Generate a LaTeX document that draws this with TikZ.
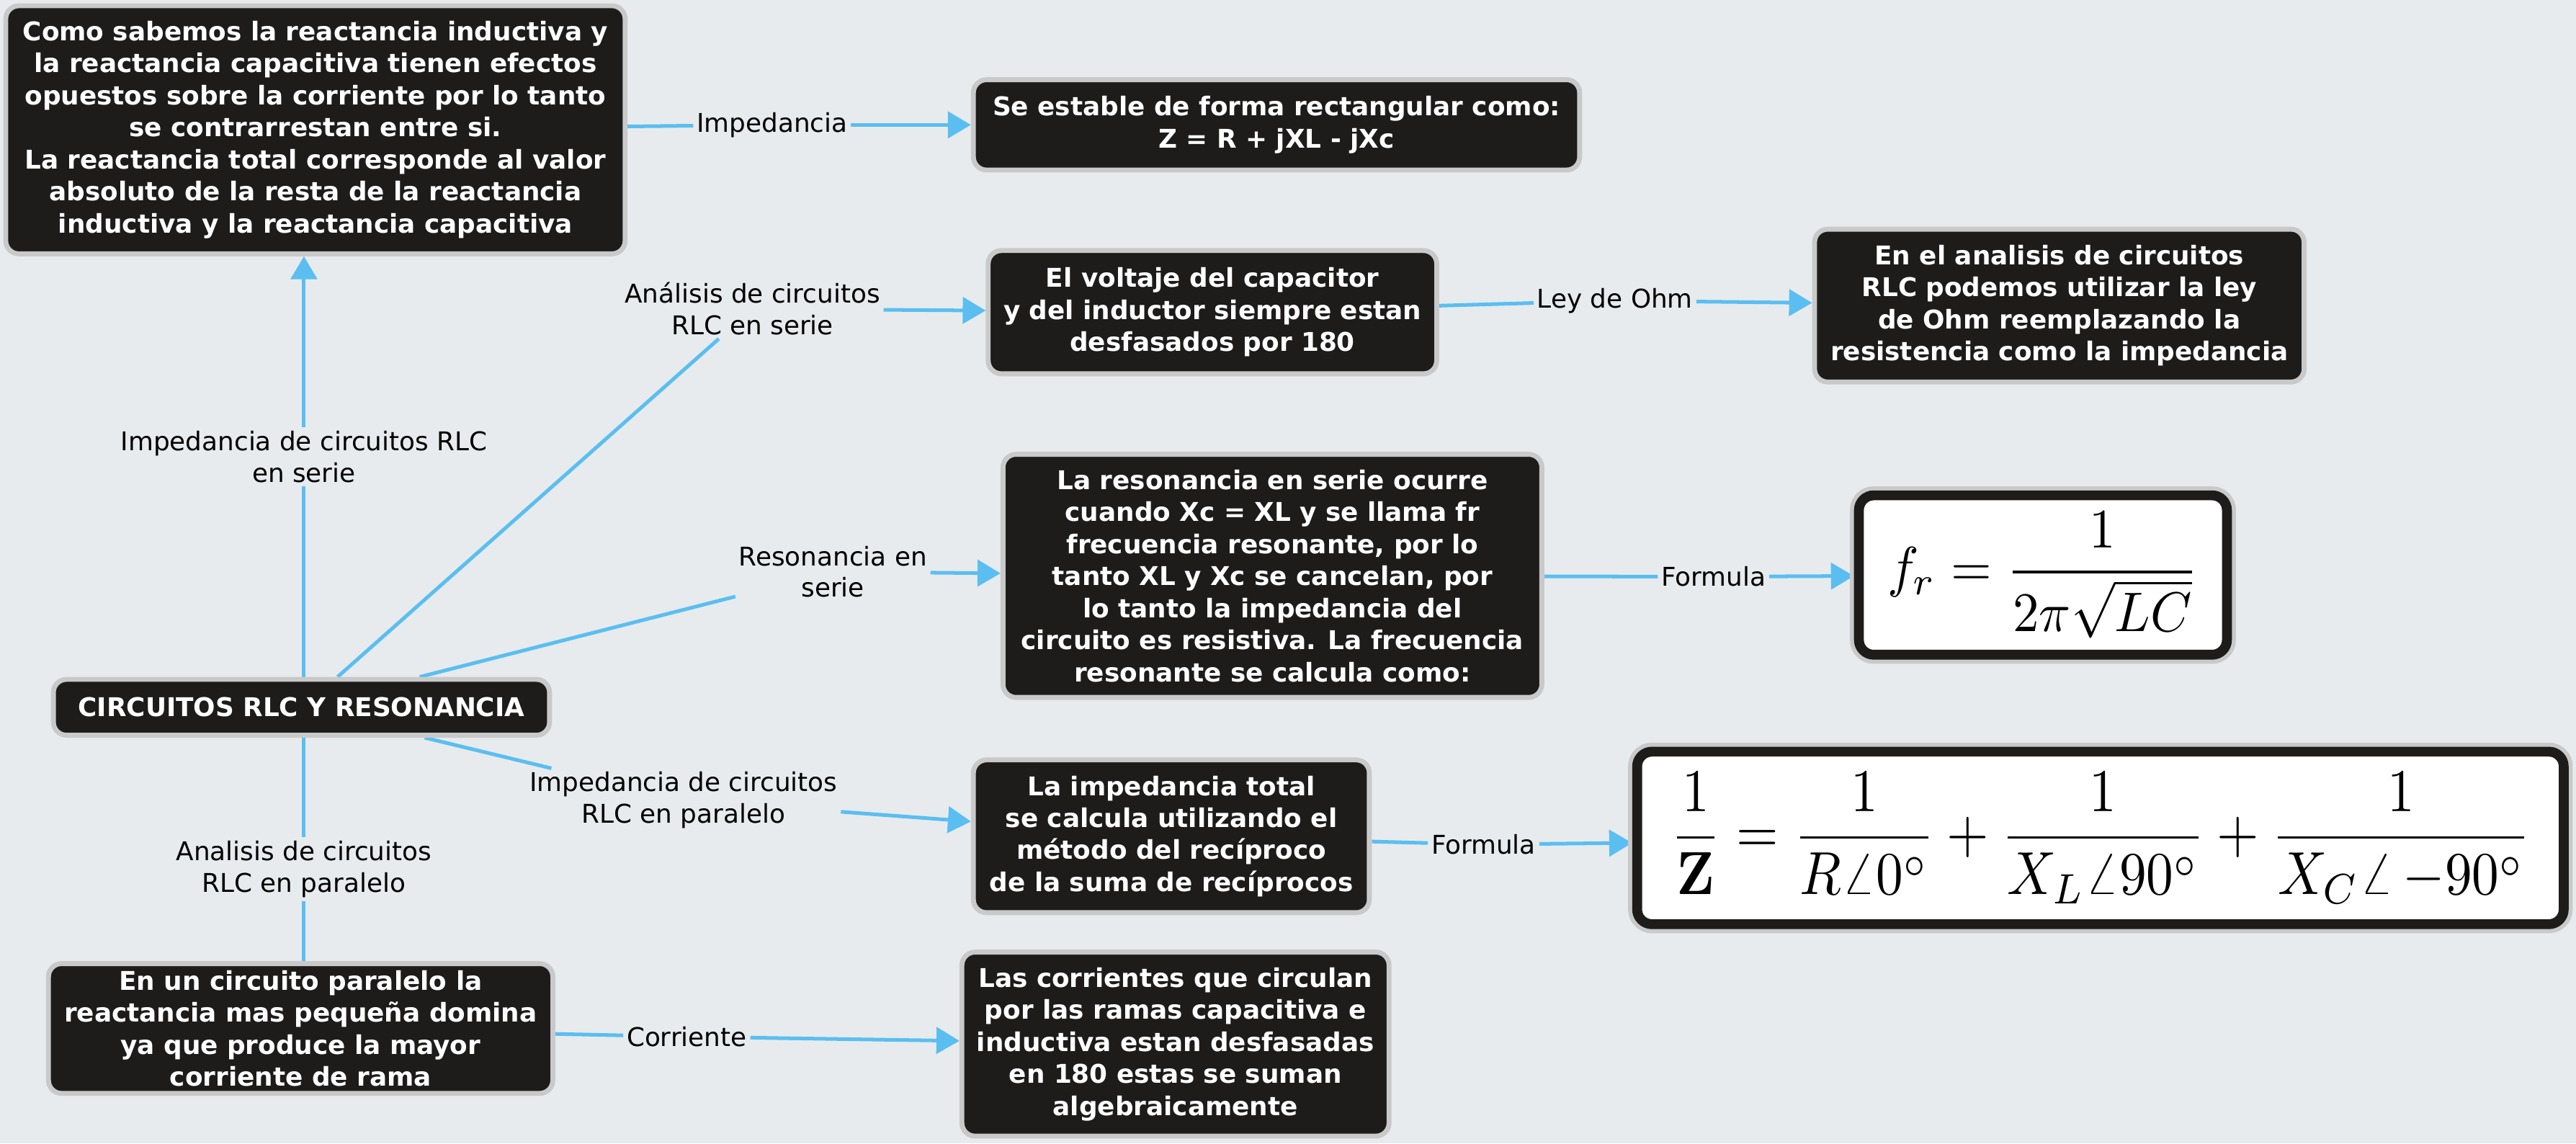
\documentclass[tikz,border=0pt]{standalone}
\usepackage[no-math]{fontspec}
\setmainfont{DejaVu Sans}
\usepackage{graphicx}
\usetikzlibrary{arrows.meta}
\definecolor{bgcol}{HTML}{E7EBED}
\definecolor{boxfill}{HTML}{1E1C1B}
\definecolor{ring}{HTML}{C9C9C9}
\definecolor{linkcol}{HTML}{5BBEF0}
\pgfdeclarelayer{back}
\pgfdeclarelayer{edges}
\pgfsetlayers{back,edges,main}
\begin{document}
\begin{tikzpicture}[x=1pt,y=-1pt,
  topic/.style={rounded corners=8pt, fill=boxfill, draw=ring, line width=3pt, text=white,
    font=\fontsize{15.7}{19.5}\selectfont\bfseries, align=center, inner sep=0pt},
  formula/.style={rounded corners=9pt, fill=white, draw=boxfill, line width=6pt,
    preaction={draw=ring, line width=11pt}, inner sep=0pt},
  lbl/.style={align=center, inner sep=2pt, text=black, font=\fontsize{15.7}{19.2}\selectfont},
  linkline/.style={draw=linkcol, line width=2.2pt},
  arr/.style={linkline, -{Triangle[length=14pt,width=16pt]}}
]
\begin{pgfonlayer}{back}
\fill[bgcol] (0,0) rectangle (1568,696);
\end{pgfonlayer}
\useasboundingbox (0,0) rectangle (1568,696);

% topics
\node[topic, minimum width=377pt, minimum height=151pt] (A) at (192,79)
 {Como sabemos la reactancia inductiva y\\la reactancia capacitiva tienen efectos\\opuestos sobre la corriente por lo tanto\\se contrarrestan entre si.\\La reactancia total corresponde al valor\\absoluto de la resta de la reactancia\\inductiva y la reactancia capacitiva};
\node[topic, minimum width=369pt, minimum height=55pt] (B) at (777,76)
 {Se estable de forma rectangular como:\\Z = R + jXL - jXc};
\node[topic, minimum width=273pt, minimum height=75pt] (C) at (738,190)
 {El voltaje del capacitor\\y del inductor siempre estan\\desfasados por 180};
\node[topic, minimum width=298pt, minimum height=93pt] (D) at (1253.5,186)
 {En el analisis de circuitos\\RLC podemos utilizar la ley\\de Ohm reemplazando la\\resistencia como la impedancia};
\node[topic, minimum width=328pt, minimum height=148pt] (E) at (774.5,350.5)
 {La resonancia en serie ocurre\\cuando Xc = XL y se llama fr\\frecuencia resonante, por lo\\tanto XL y Xc se cancelan, por\\lo tanto la impedancia del\\circuito es resistiva. La frecuencia\\resonante se calcula como:};
\node[formula, minimum width=224pt, minimum height=97pt] (F) at (1243.5,350)
 {\scalebox{3.2}[3.4]{$\displaystyle f_r=\frac{1}{2\pi\sqrt{LC}}$}};
\node[topic, minimum width=302pt, minimum height=34pt] (root) at (183.5,430.5)
 {CIRCUITOS RLC Y RESONANCIA};
\node[topic, minimum width=241pt, minimum height=93pt] (G) at (713,509)
 {La impedancia total\\se calcula utilizando el\\método del recíproco\\de la suma de recíprocos};
\node[formula, minimum width=564pt, minimum height=105pt] (H) at (1278.5,510)
 {\scalebox{3.3}[3.7]{$\displaystyle \frac{1}{\mathbf{Z}}=\frac{1}{R\angle 0^\circ}+\frac{1}{X_L\angle 90^\circ}+\frac{1}{X_C\angle\,{-90^\circ}}$}};
\node[topic, minimum width=307pt, minimum height=79pt] (I) at (183,626)
 {En un circuito paralelo la\\reactancia mas pequeña domina\\ya que produce la mayor\\corriente de rama};
\node[topic, minimum width=260pt, minimum height=112pt] (J) at (715.5,635.5)
 {Las corrientes que circulan\\por las ramas capacitiva e\\inductiva estan desfasadas\\en 180 estas se suman\\algebraicamente};

% labels
\node[lbl] (L1) at (185,278) {Impedancia de circuitos RLC\\en serie};
\node[lbl] (L2) at (470,76) {Impedancia};
\node[lbl] (L3) at (458,188) {Análisis de circuitos\\RLC en serie};
\node[lbl] (L4) at (983,183) {Ley de Ohm};
\node[lbl] (L5) at (507,348) {Resonancia en\\serie};
\node[lbl] (L6) at (1043,351) {Formula};
\node[lbl] (L7) at (416,487) {Impedancia de circuitos\\RLC en paralelo};
\node[lbl] (L8) at (903,514) {Formula};
\node[lbl] (L9) at (185,529) {Analisis de circuitos\\RLC en paralelo};
\node[lbl] (L10) at (418,631) {Corriente};

% connectors
\begin{pgfonlayer}{edges}
\draw[linkline] (root.north -| L1) -- (L1);
\draw[arr] (L1.north) -- (L1.north |- A.south);
\draw[linkline] (A) -- (L2);
\draw[arr] (L2) -- (B);
\draw[linkline] ([xshift=22pt]root.north) -- (L3);
\draw[arr] (L3) -- (C);
\draw[linkline] (C) -- (L4);
\draw[arr] (L4) -- (D);
\draw[linkline] ([xshift=72pt]root.north) -- (L5);
\draw[arr] (L5) -- (E);
\draw[linkline] (E) -- (L6);
\draw[arr] (L6) -- (F);
\draw[linkline] ([xshift=75pt]root.south) -- (L7);
\draw[arr] (L7) -- (G);
\draw[linkline] (G) -- (L8);
\draw[arr] (L8) -- (H);
\draw[linkline] (root.south -| L9) -- (L9);
\draw[linkline] (L9) -- (L9 |- I.north);
\draw[linkline] (I) -- (L10);
\draw[arr] (L10) -- (J);
\end{pgfonlayer}
\end{tikzpicture}
\end{document}
